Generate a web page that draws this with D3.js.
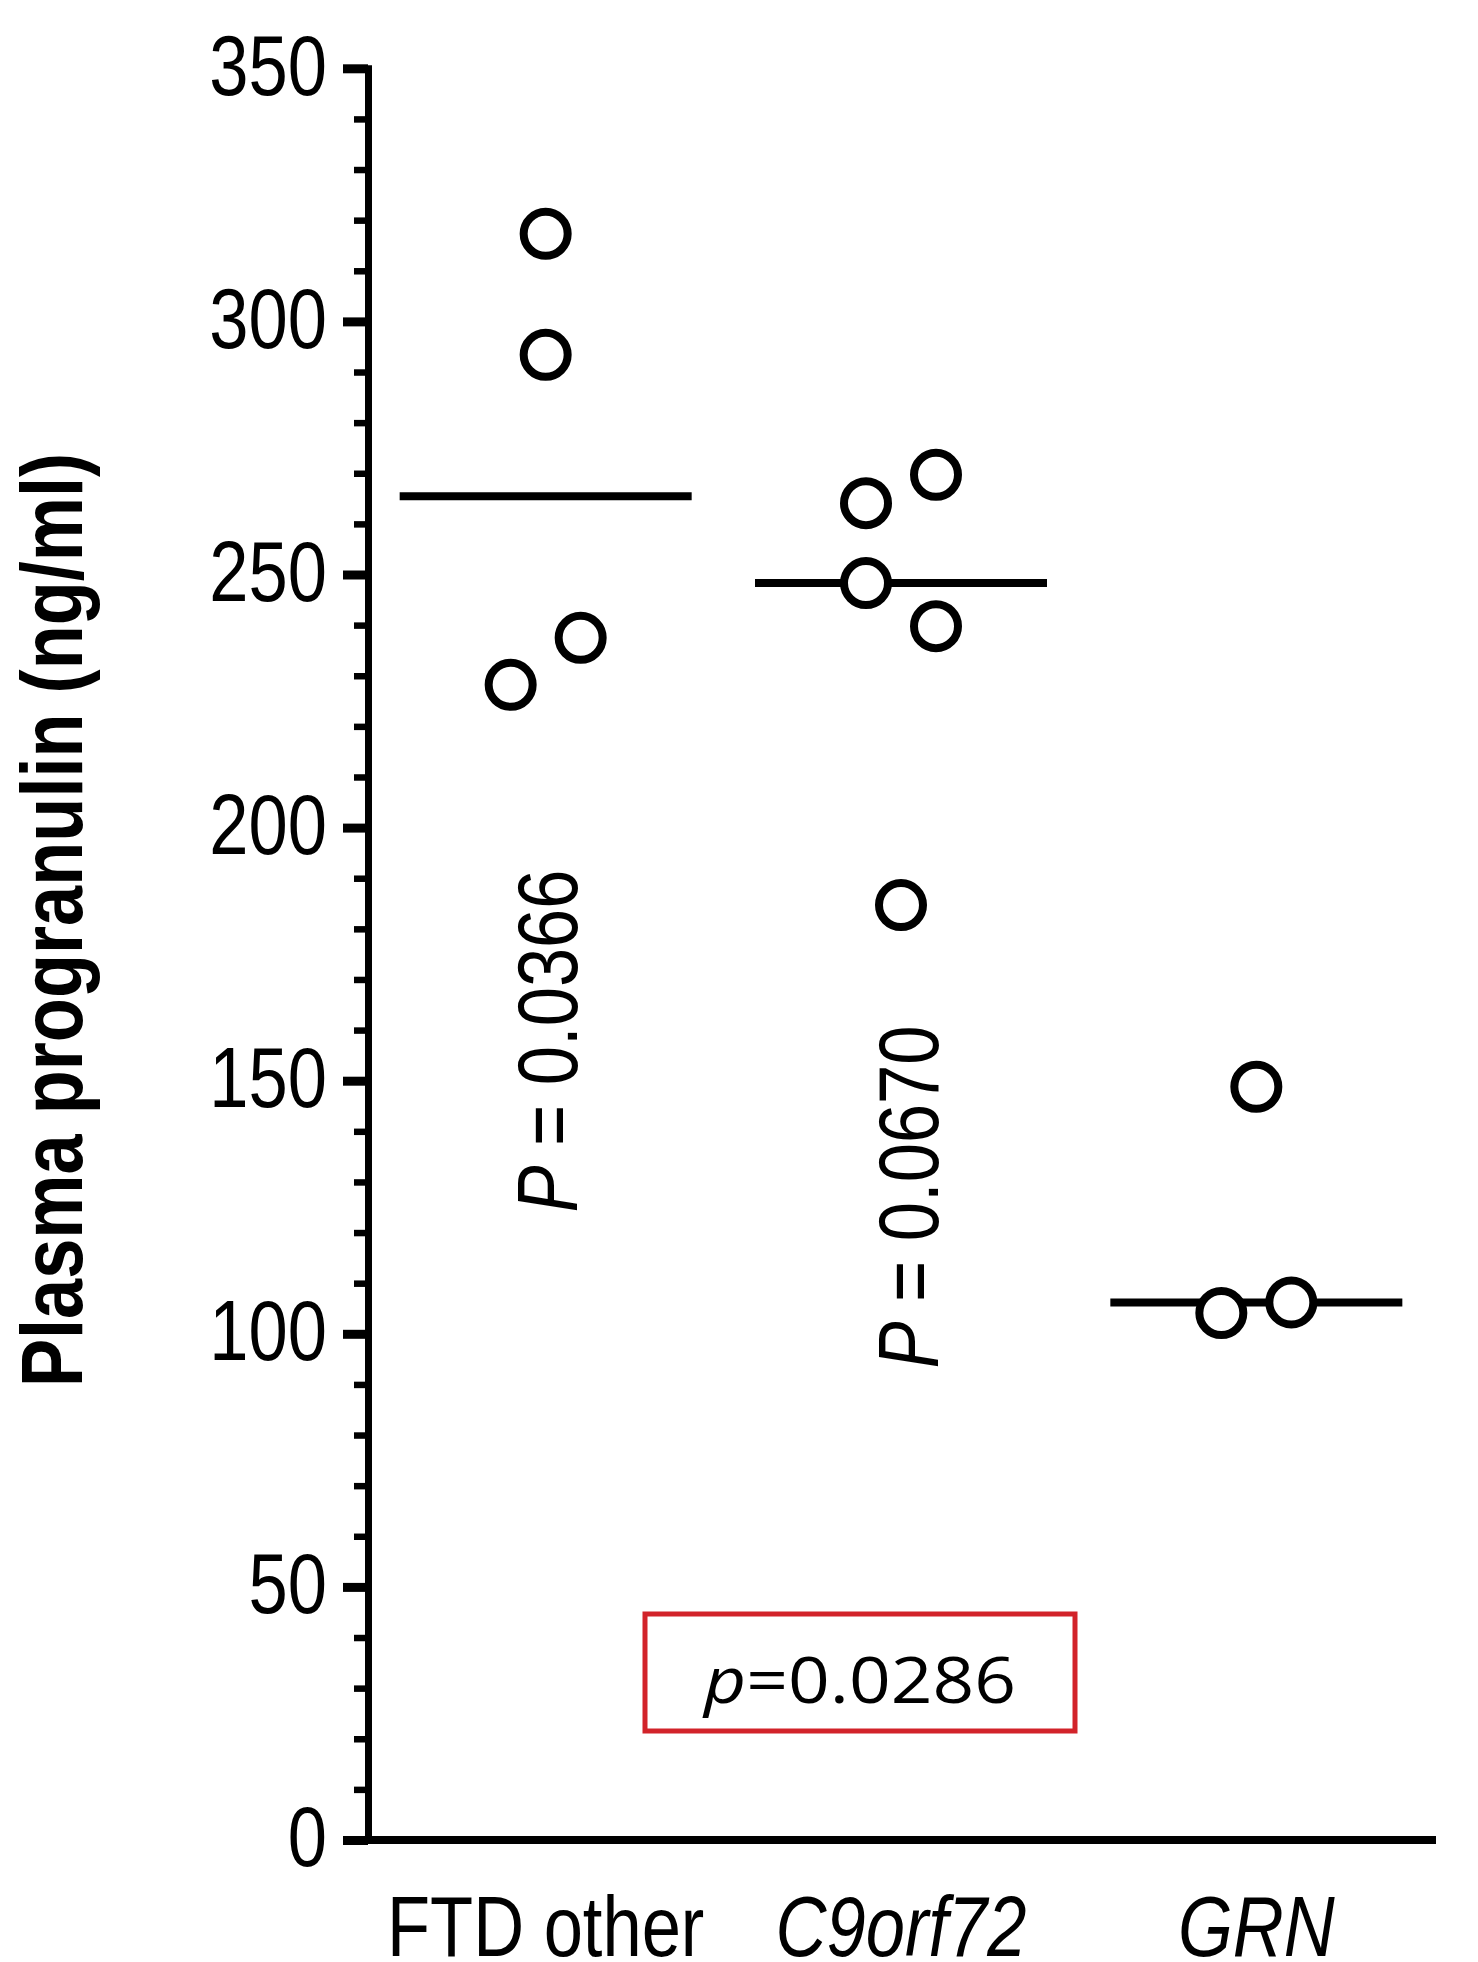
<!DOCTYPE html>
<html>
<head>
<meta charset="utf-8">
<script src="https://cdn.jsdelivr.net/npm/d3@7"></script>
<style>
  html, body { margin: 0; padding: 0; background: #ffffff; }
  svg { display: block; }
</style>
</head>
<body>
<div id="chart"></div>
<script>
// ---------- data ----------
const categories = ["FTD other", "C9orf72", "GRN"];
const italicCategory = [false, true, true];
const ftdOther = [317.3, 293.4, 228.2, 237.5];
const c9orf72 = [264.1, 269.7, 248.3, 239.8, 184.7];
const grn = [148.8, 104.1, 106.2];
const groupValues = [ftdOther, c9orf72, grn];
const pairPValues = ["0.0366", "0.0670"];
const overallP = "0.0286";
const yMajorTicks = [0, 50, 100, 150, 200, 250, 300, 350];
const yMinorTicks = [10, 20, 30, 40, 60, 70, 80, 90, 110, 120, 130, 140, 160, 170, 180, 190,
                     210, 220, 230, 240, 260, 270, 280, 290, 310, 320, 330, 340];
const yTitle = "Plasma progranulin (ng/ml)";

// ---------- layout ----------
const W = 1478, H = 1962;
const sans = "'Liberation Sans', Arial, Helvetica, sans-serif";
const NARROW = 0.82; // emulate Arial Narrow by horizontal compression

const svg = d3.select("#chart").append("svg")
  .attr("width", W).attr("height", H)
  .attr("viewBox", `0 0 ${W} ${H}`);

const y = d3.scaleLinear().domain([0, 350]).range([1840, 68.3]);
const x = d3.scaleBand().domain(categories).range([368, 1434]).padding(0);
const cx = c => x(c) + x.bandwidth() / 2;

// ---------- y axis ----------
const minorAxis = d3.axisLeft(y).tickValues(yMinorTicks).tickSize(14).tickSizeOuter(0).tickFormat("");
const gMinor = svg.append("g").attr("transform", "translate(368,0)").call(minorAxis);
gMinor.select(".domain").remove();
gMinor.selectAll(".tick line").attr("stroke", "#000").attr("stroke-width", 6.5);

const majorAxis = d3.axisLeft(y).tickValues(yMajorTicks).tickSize(25).tickSizeOuter(0).tickPadding(16);
const gMajor = svg.append("g").attr("transform", "translate(368,0)").call(majorAxis);
gMajor.select(".domain").attr("stroke", "#000").attr("stroke-width", 7).attr("stroke-linecap", "square");
gMajor.selectAll(".tick line").attr("stroke", "#000").attr("stroke-width", 9);
gMajor.selectAll(".tick text")
  .attr("font-family", sans).attr("font-size", 86).attr("fill", "#000")
  .attr("x", 0).attr("dy", "0.3em")
  .attr("transform", `translate(-41,0) scale(${NARROW},1)`);

// ---------- x axis ----------
svg.append("line")
  .attr("x1", 343).attr("x2", 1436)
  .attr("y1", y(0)).attr("y2", y(0))
  .attr("stroke", "#000").attr("stroke-width", 8);

const xAxis = d3.axisBottom(x).tickSize(0).tickPadding(0);
const gX = svg.append("g").attr("transform", `translate(0,${y(0)})`).call(xAxis);
gX.select(".domain").remove();
gX.selectAll(".tick text")
  .attr("font-family", sans).attr("font-size", 86).attr("fill", "#000")
  .attr("y", 0).attr("dy", 0)
  .attr("transform", `translate(0,116) scale(${NARROW},1)`)
  .attr("font-style", (d, i) => italicCategory[i] ? "italic" : "normal");

// ---------- y title ----------
svg.append("text")
  .attr("transform", `translate(82,920) rotate(-90) scale(${NARROW},1)`)
  .attr("text-anchor", "middle")
  .attr("font-family", sans).attr("font-weight", "bold").attr("font-size", 88)
  .attr("fill", "#000")
  .text(yTitle);

// ---------- medians ----------
const medHalf = 146;
svg.append("g").selectAll("line")
  .data(categories)
  .join("line")
  .attr("x1", c => cx(c) - medHalf)
  .attr("x2", c => cx(c) + medHalf)
  .attr("y1", (c, i) => y(d3.median(groupValues[i])))
  .attr("y2", (c, i) => y(d3.median(groupValues[i])))
  .attr("stroke", "#000").attr("stroke-width", 8);

// ---------- scatter (row-based spread like GraphPad) ----------
const rowGap = 55, spread = 70;
const points = [];
categories.forEach((c, gi) => {
  const vals = groupValues[gi];
  const order = d3.range(vals.length).sort((a, b) => vals[b] - vals[a]);
  const rows = [];
  order.forEach(idx => {
    const last = rows[rows.length - 1];
    if (last && Math.abs(y(vals[idx]) - y(vals[last[0]])) < rowGap) last.push(idx);
    else rows.push([idx]);
  });
  rows.forEach(row => {
    row.sort((a, b) => a - b);
    row.forEach((idx, k) => {
      points.push({ cat: c, value: vals[idx], off: (k - (row.length - 1) / 2) * spread });
    });
  });
});

svg.append("g").selectAll("circle")
  .data(points)
  .join("circle")
  .attr("cx", d => cx(d.cat) + d.off)
  .attr("cy", d => y(d.value))
  .attr("r", 22)
  .attr("fill", "#fff")
  .attr("stroke", "#000")
  .attr("stroke-width", 8);

// ---------- rotated pairwise p-values ----------
const pCenters = [
  { base: 577, mid: 1041 },
  { base: 938, mid: 1197 }
];
pairPValues.forEach((pv, i) => {
  const t = svg.append("text")
    .attr("transform", `translate(${pCenters[i].base},${pCenters[i].mid}) rotate(-90) scale(${NARROW},1)`)
    .attr("text-anchor", "middle")
    .attr("font-family", sans).attr("font-size", 86).attr("fill", "#000");
  t.append("tspan").attr("font-style", "italic").text("P");
  t.append("tspan").text(" = " + pv);
});

// ---------- overall p-value box ----------
svg.append("rect")
  .attr("x", 645).attr("y", 1614)
  .attr("width", 430).attr("height", 117)
  .attr("fill", "none")
  .attr("stroke", "#d2232a").attr("stroke-width", 5);

const tp = svg.append("text")
  .attr("x", 860).attr("y", 1703)
  .attr("text-anchor", "middle")
  .attr("font-family", "'Open Sans', 'Noto Sans', sans-serif")
  .attr("font-size", 64).attr("fill", "#000")
  .attr("textLength", 312).attr("lengthAdjust", "spacingAndGlyphs");
tp.append("tspan").attr("font-style", "italic").text("p");
tp.append("tspan").text("=" + overallP);
</script>
</body>
</html>
